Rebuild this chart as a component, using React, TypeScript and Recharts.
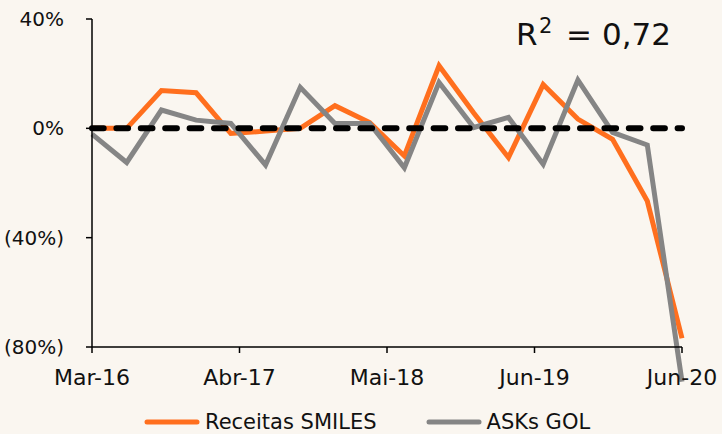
import React from "react";
import { LineChart, Line, XAxis, YAxis, ReferenceLine, Legend } from "recharts";

const quarters = [
  "Mar-16", "Jun-16", "Set-16", "Dez-16",
  "Mar-17", "Jun-17", "Set-17", "Dez-17",
  "Mar-18", "Jun-18", "Set-18", "Dez-18",
  "Mar-19", "Jun-19", "Set-19", "Dez-19",
  "Mar-20", "Jun-20",
];
const receitasSmiles = [0, 0, 13.8, 13.0, -1.9, -1, 0, 8.3, 2.1, -10.1, 22.9, 5.6, -10.7, 16, 3.4, -4.0, -26.6, -76.8];
const asksGol = [-2.1, -12.5, 6.7, 3.0, 1.8, -13.4, 15.0, 1.8, 1.8, -14.4, 16.8, 0.3, 4.0, -13.1, 17.7, -1.5, -6.1, -92.7];

const xTickLabels = ["Mar-16", "Abr-17", "Mai-18", "Jun-19", "Jun-20"];
const xTicks = [0, 4.25, 8.5, 12.75, 17];
const yTicks = [-80, -40, 0, 40];

const data = quarters.map((q, i) => ({ x: i, label: q, smiles: receitasSmiles[i], asks: asksGol[i] }));

const ORANGE = "#FF6F1E";
const GRAY = "#858585";
const BG = "#FAF6F0";
const FONT = "'DejaVu Sans', Verdana, sans-serif";

function fmtPct(v: number) {
  return v < 0 ? `(${-v}%)` : `${v}%`;
}

function LegendContent() {
  const items = [
    { name: "Receitas SMILES", color: ORANGE },
    { name: "ASKs GOL", color: GRAY },
  ];
  return (
    <div style={{ display: "flex", height: 22, lineHeight: "22px", paddingLeft: 144, fontFamily: FONT, fontSize: 21, color: "#111" }}>
      {items.map((it, i) => (
        <div key={it.name} style={{ display: "flex", alignItems: "center", marginRight: i === 0 ? 49 : 0 }}>
          <svg width={56} height={8} style={{ display: "block" }}>
            <line x1={3} y1={4} x2={53} y2={4} stroke={it.color} strokeWidth={5} strokeLinecap="round" />
          </svg>
          <span style={{ marginLeft: 5 }}>{it.name}</span>
        </div>
      ))}
    </div>
  );
}

export default function App() {
  return (
    <div style={{ position: "absolute", left: 0, top: 0, width: 722, height: 434, background: BG, overflow: "hidden" }}>
      <style>{`.recharts-wrapper svg [clip-path]{clip-path:none !important}`}</style>
      <LineChart width={722} height={434} data={data} margin={{ top: 19, right: 40, left: 12, bottom: 0 }}>
        <XAxis
          type="number"
          dataKey="x"
          domain={[0, 17]}
          ticks={xTicks}
          tickFormatter={(v: number) => xTickLabels[xTicks.indexOf(v)] ?? ""}
          height={65}
          tickSize={6}
          tickMargin={16}
          axisLine={{ stroke: "#000", strokeWidth: 1.5 }}
          tickLine={{ stroke: "#000", strokeWidth: 1.5 }}
          tick={{ fill: "#111", fontSize: 22, fontFamily: FONT }}
          interval={0}
        />
        <YAxis
          type="number"
          domain={[-80, 40]}
          ticks={yTicks}
          allowDataOverflow
          tickFormatter={fmtPct}
          width={80}
          tickSize={6}
          tickMargin={22}
          axisLine={{ stroke: "#000", strokeWidth: 1.5 }}
          tickLine={{ stroke: "#000", strokeWidth: 1.5 }}
          tick={{ fill: "#111", fontSize: 20, fontFamily: FONT }}
          interval={0}
        />
        <Line type="linear" dataKey="smiles" name="Receitas SMILES" stroke={ORANGE} strokeWidth={5} dot={false} isAnimationActive={false} />
        <Line type="linear" dataKey="asks" name="ASKs GOL" stroke={GRAY} strokeWidth={5} dot={false} isAnimationActive={false} />
        <ReferenceLine y={0} stroke="#000" strokeWidth={6} strokeDasharray="11.7 12.7" strokeLinecap="round" />
        <Legend content={<LegendContent />} wrapperStyle={{ top: 411, left: 0, width: 722 }} />
      </LineChart>
      <svg width={722} height={434} style={{ position: "absolute", left: 0, top: 0, pointerEvents: "none" }}>
        <text y={45} fontFamily={FONT} fontSize={31} fill="#111">
          <tspan x={516}>R</tspan>
          <tspan x={539} dy={-12} fontSize={21}>2</tspan>
          <tspan x={566} dy={12}>=</tspan>
          <tspan x={602}>0,72</tspan>
        </text>
      </svg>
    </div>
  );
}
